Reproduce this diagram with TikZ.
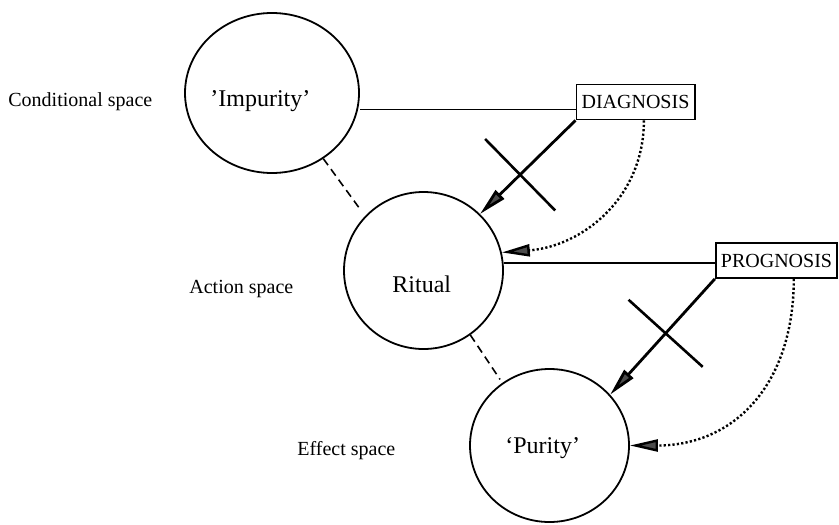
\documentclass[tikz,border=0pt]{standalone}
\usepackage{fontspec}
\setmainfont{Liberation Serif}
\usetikzlibrary{arrows.meta,positioning,calc,shapes.geometric}

\begin{document}
\begin{tikzpicture}[x=0.5pt,y=-0.5pt,
  blob/.style={draw,ellipse,line width=0.9pt,inner sep=0pt},
  tag/.style={draw,line width=0.9pt,inner xsep=2.6pt,minimum height=17.5pt},
  txt/.style={inner sep=0pt,anchor=base west},
  link/.style={line width=0.8pt},
  tie/.style={line width=0.8pt,dash pattern=on 4pt off 2.5pt},
  blocked/.style={line width=1.4pt,-{Triangle[length=14pt,width=6pt,fill=black!70]}},
  hope/.style={line width=1.2pt,dash pattern=on 1.1pt off 1.1pt,-{Triangle[length=14pt,width=6pt,fill=black!70]}},
  bar/.style={line width=1.3pt}]
\useasboundingbox (0,0) rectangle (839,524);
% spaces
\node[blob,minimum width=87pt,minimum height=80pt] (imp) at (272,93) {};
\node[blob,minimum width=79.5pt,minimum height=78.5pt] (rit) at (423.5,270.5) {};
\node[blob,minimum width=79.5pt,minimum height=76.5pt] (pur) at (549.5,445.5) {};
\node[txt,font=\large] (impt) at (210,106) {'Impurity'};
\node[txt,font=\large] (ritt) at (392,292) {Ritual};
\node[txt,font=\large] (purt) at (505,453) {`Purity'};
\node[txt] (cond) at (8,106) {Conditional space};
\node[txt] (act) at (189,293) {Action space};
\node[txt] (eff) at (297,455) {Effect space};
\node[tag] (diag) at (635.5,102) {DIAGNOSIS};
\node[tag] (prog) at (776.5,260.5) {PROGNOSIS};
% links
\coordinate (dfoot) at ($(diag.south west)!0.3!(diag.north west)$);
\coordinate (pfoot) at ($(prog.south west)!0.43!(prog.north west)$);
\draw[link] (dfoot) -- (dfoot -| imp.east);
\draw[link] (pfoot) -- (pfoot -| rit.east);
\draw[tie,shorten >=3.5pt] (imp.-52) -- (rit.137);
\draw[tie,shorten >=2pt] (rit.-54) -- (pur.127);
% crossed arrows
\draw[blocked] (diag.south west) -- coordinate[pos=0.58] (dcut) (rit.45);
\draw[bar] ($(dcut)!25pt!90:(rit.45)$) -- ($(dcut)!25pt!-90:(rit.45)$);
\draw[blocked] (prog.south west) -- coordinate[pos=0.47] (pcut) (pur.40);
\draw[bar] ($(pcut)!25pt!90:(pur.40)$) -- ($(pcut)!25pt!-90:(pur.40)$);
% dotted arrows
\coordinate (dfall) at ($(diag.south west)!0.57!(diag.south east)$);
\coordinate (pfall) at ($(prog.south west)!0.64!(prog.south east)$);
\draw[hope] (dfall) .. controls +(0,78) and +(80,-6) .. (rit.13);
\draw[hope] (pfall) .. controls +(0,105) and +(105,0) .. (pur.east);
\end{tikzpicture}
\end{document}
